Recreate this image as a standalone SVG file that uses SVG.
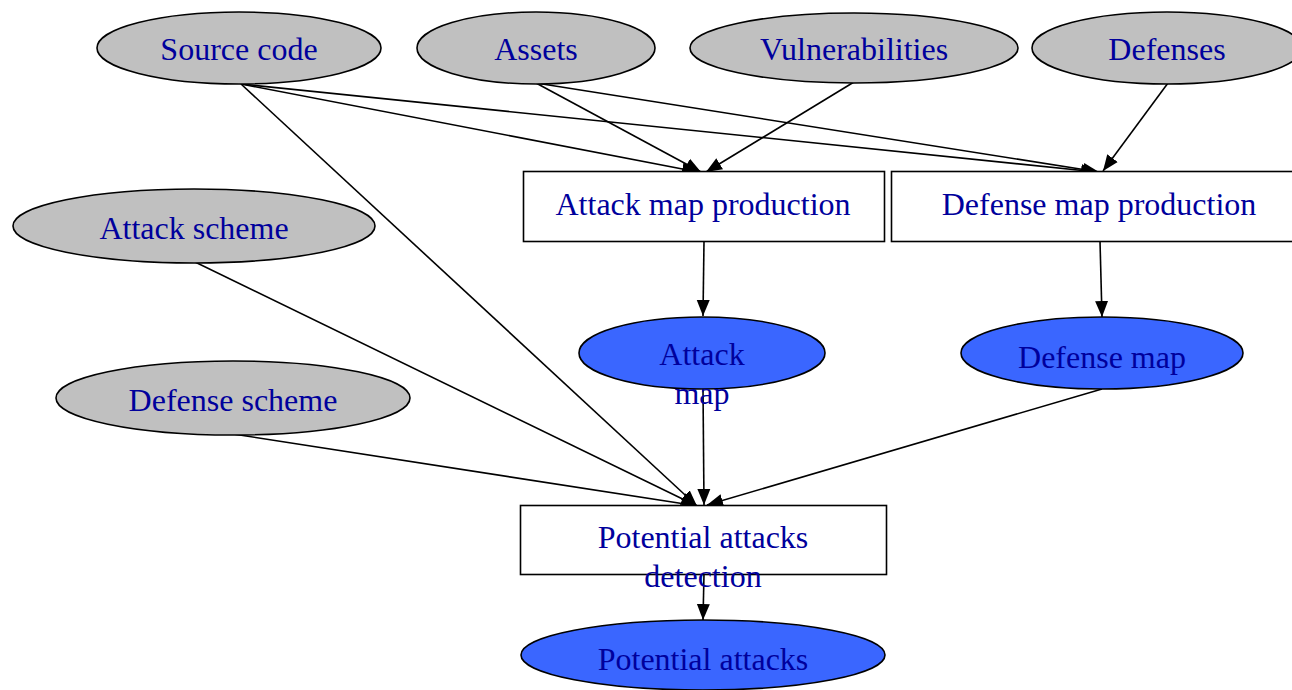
<svg xmlns="http://www.w3.org/2000/svg" width="1292" height="690" viewBox="0 0 1292 690">
<style>
.in{fill:#c0c0c0;stroke:#000;stroke-width:1.6}
.out{fill:#3a66ff;stroke:#000;stroke-width:1.6}
.box{fill:#fff;stroke:#000;stroke-width:1.6}
text{font-family:"Liberation Serif","Times New Roman",serif;font-size:32px;fill:#00009c;text-anchor:middle}
.e{stroke:#000;stroke-width:1.6;fill:none;marker-end:url(#ah)}
</style>
<defs>
<marker id="ah" markerUnits="userSpaceOnUse" markerWidth="17" markerHeight="14" refX="16" refY="7" orient="auto">
<path d="M0,0.5 L16,7 L0,13.5 z" fill="#000"/>
</marker>
</defs>
<rect width="1292" height="690" fill="#fff"/>
<g id="edges">
<line class="e" x1="241" y1="84" x2="698" y2="172"/>
<line class="e" x1="241" y1="84" x2="1097" y2="172"/>
<line class="e" x1="241" y1="84" x2="697" y2="506"/>
<line class="e" x1="536" y1="83" x2="701" y2="172"/>
<line class="e" x1="536" y1="83" x2="1099" y2="172"/>
<line class="e" x1="854" y1="82" x2="706" y2="172"/>
<line class="e" x1="1168" y1="83" x2="1103" y2="171"/>
<line class="e" x1="704" y1="241" x2="703" y2="316"/>
<line class="e" x1="1100" y1="241" x2="1102" y2="317"/>
<line class="e" x1="195" y1="262" x2="697" y2="506"/>
<line class="e" x1="233" y1="434" x2="698" y2="506"/>
<line class="e" x1="703" y1="389" x2="704" y2="505"/>
<line class="e" x1="1102" y1="389" x2="707" y2="505"/>
<line class="e" x1="704" y1="574" x2="703" y2="620"/>
</g>
<g id="source-code"><ellipse class="in" cx="239" cy="48" rx="142" ry="36"/><text x="239" y="60">Source code</text></g>
<g id="assets"><ellipse class="in" cx="536" cy="48" rx="119" ry="36"/><text x="536" y="60">Assets</text></g>
<g id="vulnerabilities"><ellipse class="in" cx="854" cy="48" rx="164" ry="35"/><text x="854" y="60">Vulnerabilities</text></g>
<g id="defenses"><ellipse class="in" cx="1167" cy="48" rx="135" ry="36"/><text x="1167" y="60">Defenses</text></g>
<g id="attack-scheme"><ellipse class="in" cx="194" cy="226" rx="181" ry="37"/><text x="194" y="239">Attack scheme</text></g>
<g id="defense-scheme"><ellipse class="in" cx="233" cy="398" rx="177" ry="37"/><text x="233" y="411">Defense scheme</text></g>
<g id="attack-map-production"><rect class="box" x="523.5" y="171.5" width="361" height="70"/><text x="703" y="215">Attack map production</text></g>
<g id="defense-map-production"><rect class="box" x="891.5" y="171.5" width="416" height="70"/><text x="1099" y="215">Defense map production</text></g>
<g id="attack-map"><ellipse class="out" cx="702" cy="353" rx="123" ry="36"/><text x="702" y="365">Attack</text><text x="702" y="404">map</text></g>
<g id="defense-map"><ellipse class="out" cx="1102" cy="353" rx="141" ry="36"/><text x="1102" y="368">Defense map</text></g>
<g id="potential-attacks-detection"><rect class="box" x="520.5" y="505.5" width="366" height="69"/><text x="703" y="548">Potential attacks</text><text x="703" y="587">detection</text></g>
<g id="potential-attacks"><ellipse class="out" cx="703" cy="655" rx="182" ry="35"/><text x="703" y="670">Potential attacks</text></g>
</svg>
